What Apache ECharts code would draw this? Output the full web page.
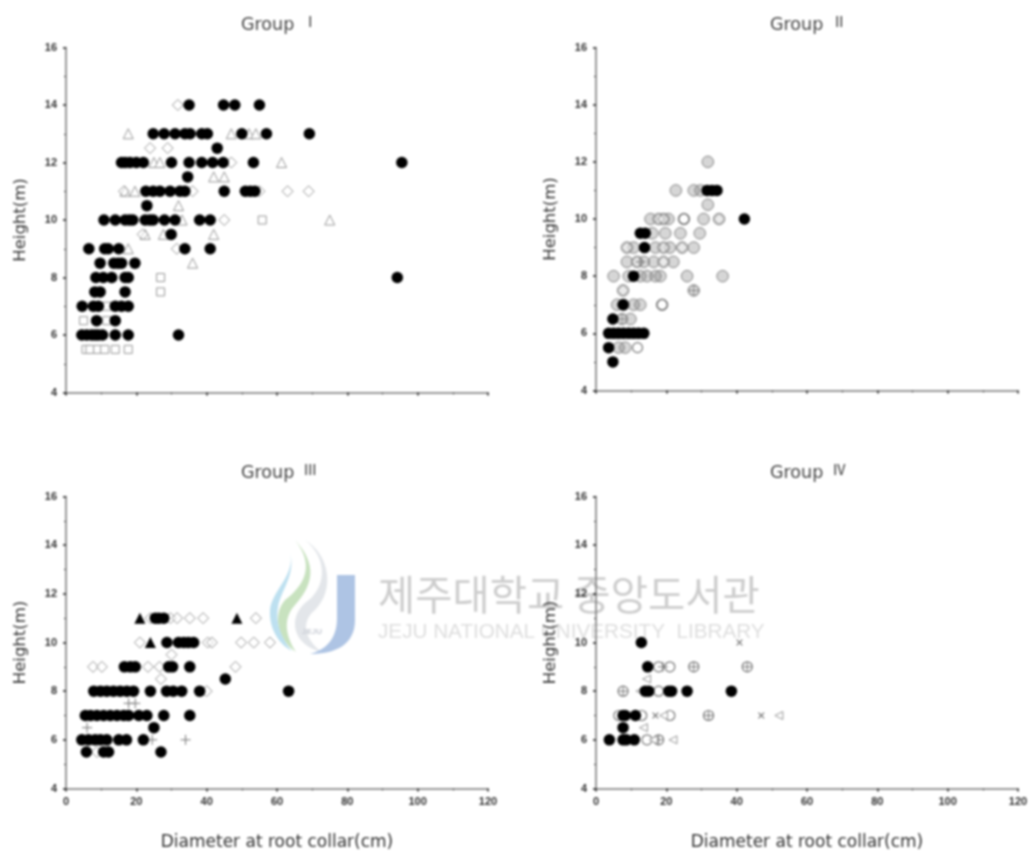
<!DOCTYPE html>
<html><head><meta charset="utf-8">
<style>html,body{margin:0;padding:0;background:#fff}#c{width:1033px;height:854px;filter:blur(1px)}</style>
<script src="https://cdn.jsdelivr.net/npm/echarts@6/dist/echarts.min.js"></script>
</head><body><div id="c"></div>
<script>
const groupNames = ['Ⅰ','Ⅱ','Ⅲ','Ⅳ'];
const xTicks = [0,20,40,60,80,100,120];
const yTicks = [4,6,8,10,12,14,16];
const xName = 'Diameter at root collar(cm)';
const yName = 'Height(m)';

// Group I
const g1Circle = [[35,14],[44.8,14],[48,14],[55,14],
 [24.8,13],[27.9,13],[31,13],[33.8,13],[35.3,13],[38.6,13],[40.2,13],[50,13],[57,13],[69.2,13],[43,12.5],
 [15.8,12],[16.8,12],[18.2,12],[20,12],[22,12],[30,12],[35,12],[38.6,12],[41.7,12],[44.7,12],[53.3,12],[95.5,12],[34.6,11.5],
 [22.7,11],[24.8,11],[26.7,11],[29.6,11],[32.4,11],[33.8,11],[45,11],[51,11],[52.4,11],[53.7,11],[23,10.5],
 [10.8,10],[14,10],[16.8,10],[18,10],[19,10],[22.5,10],[23.8,10],[24.8,10],[28,10],[31,10],[38,10],[41,10],[29.9,9.5],
 [6.5,9],[11,9],[12,9],[15,9],[33.8,9],[41,9],[9.7,8.5],[13.6,8.5],[14.8,8.5],[15.8,8.5],[19.6,8.5],
 [8.5,8],[10.6,8],[13,8],[16.8,8],[17.7,8],[94.2,8],[8.2,7.5],[9.7,7.5],[16.8,7.5],
 [4.6,7],[7.8,7],[9.2,7],[14,7],[15.8,7],[17.7,7],[8.7,6.5],[14,6.5],
 [4.5,6],[5.9,6],[7.3,6],[8.3,6],[9.2,6],[10.4,6],[14,6],[17.7,6],[32,6]];
const g1Triangle = [[17.7,13],[47,13],[52,13],[54,13],[61.3,12],[25,12],[26.7,12],[42,11.5],[45,11.5],[16.8,11],[19.6,11],[32,10.5],
 [75,10],[33,10],[22.5,9.5],[27.7,9.5],[42,9.5],[17.7,9],[36,8.5]];
const g1Diamond = [[31.8,14],[23.9,12.5],[28.9,12.5],[47,12],[36,11],[55,11],[63,11],[69,11],[16.5,11],[45,10],[21.8,9.5],[31.5,9]];
const g1Square = [[55.8,10],[26.9,8],[26.9,7.5],[11.6,7],[5,6.5],[11.6,6.5],[5.7,5.5],[6.8,5.5],[9,5.5],[11,5.5],[14,5.5],[17.7,5.5]];

// Group II
const g2Circle = [[3.6,6],[5,6],[6.4,6],[7.8,6],[9.3,6],[10.7,6],[12.1,6],[13.6,6],[3.6,5.5],[4.8,5],[4.8,6.5],[7.7,7],[10.7,8],
 [13.8,9],[12.6,9.5],[14,9.5],[42.2,10],[31.6,11],[33,11],[34.4,11]];
const g2Grey = [[31.8,12],[22.7,11],[27.8,11],[29.7,11],[31.8,10.5],[15.5,10],[17.8,10],[19.2,10],[20.6,10],[25,10],[30.6,10],[35,10],
 [16,9.5],[19.7,9.5],[24,9.5],[29.5,9.5],[8.8,9],[10.7,9],[16.9,9],[19.2,9],[21,9],[24.5,9],[27.8,9],
 [8.8,8.5],[11.7,8.5],[13.6,8.5],[16.4,8.5],[19.2,8.5],[22,8.5],[5,8],[9.3,8],[12.6,8],[14.5,8],[16.9,8],[18.3,8],[25.9,8],[36,8],
 [7.7,7.5],[27.8,7.5],[6,7],[7.9,7],[10.7,7],[12.6,7],[18.8,7],[7.4,6.5],[9.8,6.5],[6.4,5.5],[8.3,5.5]];
const g2Diamond = [[35,10],[17.8,10],[19.2,10],[8.8,9],[19.2,9],[24.5,9],[11.7,8.5],[19.2,8.5],[7.7,7.5],[27.8,7.5],[7.4,6.5]];
const g2Plus = [[27.8,7.5],[12.6,8.5],[7.4,6.5]];
const g2Open = [[11.8,5.5],[25,10],[18.8,7]];

// Group III
const g3Circle = [[25.4,11],[26.4,11],[27.8,11],[28.7,10],[32,10],[33.5,10],[34.8,10],[36.3,10],
 [16.6,9],[18.3,9],[19.7,9],[29.2,9],[30.3,9],[35.2,9],[45.3,8.5],
 [7.9,8],[9.8,8],[11.6,8],[13.5,8],[15.4,8],[17.3,8],[19.2,8],[24,8],[28.6,8],[30.5,8],[32.9,8],[38,8],[63.3,8],
 [5.5,7],[7,7],[8.8,7],[10.7,7],[12.6,7],[14.5,7],[16.4,7],[17.8,7],[20.7,7],[23,7],[27.8,7],[35.2,7],[25,6.5],
 [4.5,6],[6.4,6],[8.3,6],[9.8,6],[11.6,6],[15,6],[17.2,6],[22,6],[5.8,5.5],[10.7,5.5],[12.1,5.5],[27,5.5]];
const g3Triangle = [[21,11],[48.6,11],[24,10]];
const g3Diamond = [[24,11],[29.7,11],[31.6,11],[35.2,11],[39,11],[54,11],[21,10],[40.3,10],[41.5,10],[49.8,10],[53.4,10],[58,10],[30,9.5],
 [7.7,9],[10.2,9],[23.3,9],[26.6,9],[48.2,9],[27,8.5],[40,8],[8.8,5.5]];
const g3Plus = [[17.8,7.5],[19.7,7.5],[6,6.5],[24.5,6],[34,6]];

// Group IV
const g4Circle = [[12.9,10],[14.7,9],[14,8],[15,8],[20.7,8],[21.5,8],[25.9,8],[38.5,8],[7.7,7],[8.3,7],[11.2,7],[7.7,6.5],[3.8,6],[7.7,6],[8.6,6],[10.9,6]];
const g4Open = [[17.8,9],[21,9],[27.8,9],[43,9],[7.7,8],[17.8,8],[32,7],[21,7],[13,7],[6.5,7],[17.8,6],[14.5,6]];
const g4Plus = [[27.8,9],[43,9],[7.7,8],[19,9],[32,7],[17.8,6]];
const g4Cross = [[40.8,10],[47,7],[16.9,7],[11.5,7]];
const g4Left = [[14.4,8.5],[52,7],[19.2,7],[13.5,6.5],[21.9,6],[12.5,8],[16.3,6]];

const plusPath = 'path://M0 5H10M5 0V10';
const panels = [
 {left:66, top:47.5, height:345, xl:false, nx:236, ty:10},
 {left:596,top:47.5, height:343, xl:false, nx:765, ty:10},
 {left:66, top:496.5,height:292, xl:true,  nx:236, ty:458},
 {left:596,top:496.5,height:292, xl:true,  nx:765, ty:458}
];
const axisGrey = '#777', open = '#999', nameFont = 'DejaVu Sans';

const mk = (idx,data,kind) => {
  const base = {type:'scatter',xAxisIndex:idx,yAxisIndex:idx,data,silent:true};
  const styles = {
    circle:{symbol:'circle',symbolSize:11.5,z:5,itemStyle:{color:'#000',opacity:1}},
    grey:{symbol:'circle',symbolSize:11.5,z:3,itemStyle:{color:'rgba(120,120,120,0.3)',borderColor:'#888',borderWidth:1,opacity:1}},
    open:{symbol:'circle',symbolSize:10,z:4,itemStyle:{color:'#fff',borderColor:'#777',borderWidth:1.2,opacity:1}},
    tri:{symbol:'triangle',symbolSize:10,z:3,itemStyle:{color:'#fff',borderColor:open,borderWidth:1,opacity:1}},
    triB:{symbol:'triangle',symbolSize:11,z:6,itemStyle:{color:'#000',opacity:1}},
    dia:{symbol:'diamond',symbolSize:11,z:3,itemStyle:{color:'rgba(255,255,255,0.5)',borderColor:open,borderWidth:1,opacity:1}},
    sq:{symbol:'rect',symbolSize:8,z:3,itemStyle:{color:'#fff',borderColor:open,borderWidth:1,opacity:1}},
    plus:{symbol:plusPath,symbolSize:10,z:4,itemStyle:{color:'none',borderColor:'#777',borderWidth:1,opacity:1}},
    cross:{symbol:plusPath,symbolSize:8,symbolRotate:45,z:4,itemStyle:{color:'none',borderColor:'#666',borderWidth:1,opacity:1}},
    left:{symbol:'triangle',symbolSize:8,symbolRotate:90,z:4,itemStyle:{color:'#fff',borderColor:open,borderWidth:1,opacity:1}}
  };
  return Object.assign(base,styles[kind]);
};

const logo = [
 {d:'M305 540 C330 560 325 590 305 603 C288 618 292 645 322 652 C305 640 300 622 315 610 C335 590 330 555 305 540 Z',c:'#e3e6ea'},
 {d:'M295 540 C315 565 305 585 285 600 C272 615 278 640 296 652 C285 635 283 618 295 605 C313 585 318 565 295 540 Z',c:'#c8e2bf'},
 {d:'M290 552 C296 575 272 590 270 610 C269 630 280 645 292 651 C283 640 275 625 278 607 C281 590 296 575 290 552 Z',c:'#bde0f0'},
 {d:'M337 575 H355 V620 C355 645 335 654 310 654 C325 650 337 640 337 618 Z',c:'#aec4e4'}
];
logo.forEach((l,i)=>echarts.graphic.registerShape('logoPart'+i,echarts.graphic.extendPath(l.d,{})));

const option = {
  animation:false,backgroundColor:'#fff',
  title: panels.map((p,i)=>({left:p.nx,top:p.ty,text:'{a|Group} {b|'+groupNames[i]+'}',
    textStyle:{fontWeight:'normal',rich:{a:{fontFamily:nameFont,fontSize:17.5,fontWeight:'normal',color:'#444'},
      b:{fontFamily:'Noto Sans CJK KR',fontSize:14,fontWeight:'normal',color:'#333',padding:[0,0,7,4]}}}})),
  grid: panels.map(p=>({left:p.left,top:p.top,width:422,height:p.height})),
  xAxis: panels.map((p,i)=>({gridIndex:i,type:'value',min:xTicks[0],max:xTicks[xTicks.length-1],interval:20,
    splitLine:{show:false},
    axisLine:{onZero:false,lineStyle:{color:axisGrey,width:1.5}},
    axisTick:{show:true,length:3,lineStyle:{color:'#222',width:1.5}},
    minorTick:{show:true,splitNumber:2,length:2,lineStyle:{color:'#555'}},
    axisLabel:{show:p.xl,fontFamily:'Liberation Sans',fontSize:11,fontWeight:'bold',color:'#333',margin:8},
    name:p.xl?xName:'',nameLocation:'middle',nameGap:46,
    nameTextStyle:{fontFamily:nameFont,fontSize:17,color:'#333'}})),
  yAxis: panels.map((p,i)=>({gridIndex:i,type:'value',min:yTicks[0],max:yTicks[yTicks.length-1],interval:2,
    splitLine:{show:false},
    axisLine:{onZero:false,lineStyle:{color:axisGrey,width:1.5}},
    axisTick:{show:true,length:3,lineStyle:{color:'#222',width:1.5}},
    minorTick:{show:true,splitNumber:2,length:2,lineStyle:{color:'#555'}},
    axisLabel:{fontFamily:'Liberation Sans',fontSize:11,fontWeight:'bold',color:'#333',margin:9},
    name:yName,nameLocation:'middle',nameGap:37,
    nameTextStyle:{fontFamily:nameFont,fontSize:16.5,color:'#333'}})),
  graphic:{elements:[
    ...logo.map((l,i)=>({type:'logoPart'+i,z:-10,style:{fill:l.c}})),
    {type:'text',z:-10,x:378,y:574,style:{text:'제주대학교 중앙도서관',font:'40.5px "Noto Sans CJK KR"',fill:'#cdcdcd'}},
    {type:'text',z:-10,x:378,y:622,style:{text:'JEJU NATIONAL UNIVERSITY  LIBRARY',font:'20.7px "Liberation Sans"',fill:'#dedede'}},
    {type:'text',z:-10,x:302,y:628,style:{text:'JEJU',font:'bold 8px "Liberation Sans"',fill:'#c8ccd4'}}
  ]},
  series:[
    mk(0,g1Square,'sq'),mk(0,g1Triangle,'tri'),mk(0,g1Diamond,'dia'),mk(0,g1Circle,'circle'),
    mk(1,g2Grey,'grey'),mk(1,g2Diamond,'dia'),mk(1,g2Plus,'plus'),mk(1,g2Open,'open'),mk(1,g2Circle,'circle'),
    mk(2,g3Diamond,'dia'),mk(2,g3Plus,'plus'),mk(2,g3Circle,'circle'),mk(2,g3Triangle,'triB'),
    mk(3,g4Open,'open'),mk(3,g4Plus,'plus'),mk(3,g4Cross,'cross'),mk(3,g4Left,'left'),mk(3,g4Circle,'circle')
  ]
};
const chart = echarts.init(document.getElementById('c'),null,{renderer:'canvas'});
chart.setOption(option);
</script>
</body></html>
